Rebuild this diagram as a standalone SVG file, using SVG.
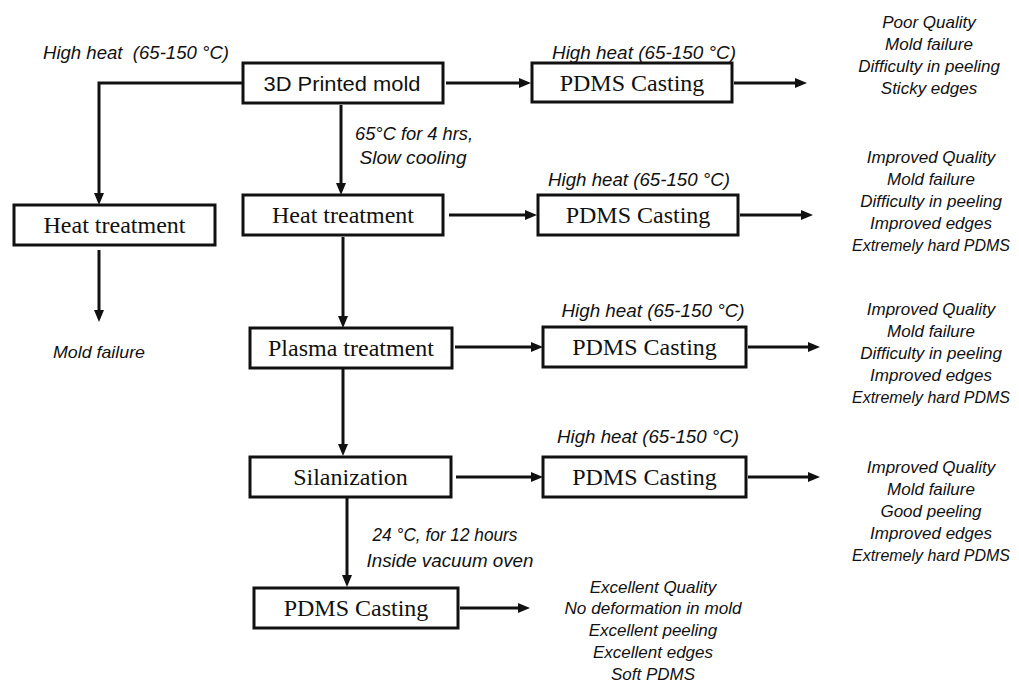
<svg xmlns="http://www.w3.org/2000/svg" width="1019" height="684" viewBox="0 0 1019 684">
<defs>
<marker id="ah" markerUnits="userSpaceOnUse" markerWidth="12" markerHeight="10" viewBox="0 0 12 10" refX="2" refY="5" orient="auto">
<path d="M0,0 L12,5 L0,10 z" fill="#111"/>
</marker>
<style>
.box{fill:#fff;stroke:#111;stroke-width:3}
.st{font-family:"Liberation Serif","Times New Roman",serif;font-size:24px;fill:#111;text-anchor:middle}
.ss{font-family:"Liberation Sans",Arial,sans-serif;font-size:20px;fill:#111;text-anchor:middle}
.it{font-family:"Liberation Sans",Arial,sans-serif;font-style:italic;font-size:17px;fill:#111;text-anchor:middle}
.hh{font-family:"Liberation Sans",Arial,sans-serif;font-style:italic;font-size:19px;fill:#111;text-anchor:middle}
.cn{fill:none;stroke:#111;stroke-width:3}
</style>
</defs>
<rect width="1019" height="684" fill="#fff"/>
<g id="connectors">
<path class="cn" d="M243,83 H99 V195" marker-end="url(#ah)"/>
<path class="cn" d="M341,105 V185" marker-end="url(#ah)"/>
<path class="cn" d="M446,83 H521" marker-end="url(#ah)"/>
<path class="cn" d="M734,83 H797" marker-end="url(#ah)"/>
<path class="cn" d="M99,250 V312" marker-end="url(#ah)"/>
<path class="cn" d="M449,215 H527" marker-end="url(#ah)"/>
<path class="cn" d="M740,215 H803" marker-end="url(#ah)"/>
<path class="cn" d="M343,237 V318" marker-end="url(#ah)"/>
<path class="cn" d="M455,347 H533" marker-end="url(#ah)"/>
<path class="cn" d="M748,347 H810" marker-end="url(#ah)"/>
<path class="cn" d="M343,369 V446" marker-end="url(#ah)"/>
<path class="cn" d="M456,477 H533" marker-end="url(#ah)"/>
<path class="cn" d="M748,477 H810" marker-end="url(#ah)"/>
<path class="cn" d="M347,498 V577" marker-end="url(#ah)"/>
<path class="cn" d="M460,608 H520" marker-end="url(#ah)"/>
</g>
<g id="n_mold"><rect class="box" x="243" y="63" width="200" height="40"/><text class="ss" x="342" y="91" textLength="157" lengthAdjust="spacingAndGlyphs">3D Printed mold</text></g>
<g id="n_heat_left"><rect class="box" x="14" y="205" width="201" height="40"/><text class="st" x="114.5" y="233">Heat treatment</text></g>
<g id="n_heat"><rect class="box" x="243" y="195" width="200" height="40"/><text class="st" x="343" y="223">Heat treatment</text></g>
<g id="n_plasma"><rect class="box" x="250" y="328" width="202" height="40"/><text class="st" x="351" y="356">Plasma treatment</text></g>
<g id="n_sil"><rect class="box" x="250" y="457" width="201" height="40"/><text class="st" x="350.5" y="485">Silanization</text></g>
<g id="n_pdms1"><rect class="box" x="532" y="63" width="200" height="39"/><text class="st" x="632" y="91">PDMS Casting</text></g>
<g id="n_pdms2"><rect class="box" x="538" y="195" width="200" height="40"/><text class="st" x="638" y="223">PDMS Casting</text></g>
<g id="n_pdms3"><rect class="box" x="543" y="327" width="203" height="40"/><text class="st" x="644.5" y="355">PDMS Casting</text></g>
<g id="n_pdms4"><rect class="box" x="543" y="457" width="203" height="40"/><text class="st" x="644.5" y="485">PDMS Casting</text></g>
<g id="n_pdms5"><rect class="box" x="254" y="588" width="204" height="40"/><text class="st" x="356" y="616">PDMS Casting</text></g>
<g id="labels">
<text class="hh" x="136" y="59" textLength="186" lengthAdjust="spacingAndGlyphs" xml:space="preserve">High heat  (65-150 °C)</text>
<text class="hh" x="644" y="59" textLength="184" lengthAdjust="spacingAndGlyphs">High heat (65-150 °C)</text>
<text class="hh" x="639" y="186" textLength="182" lengthAdjust="spacingAndGlyphs">High heat (65-150 °C)</text>
<text class="hh" x="653" y="317" textLength="183" lengthAdjust="spacingAndGlyphs">High heat (65-150 °C)</text>
<text class="hh" x="648" y="443" textLength="182" lengthAdjust="spacingAndGlyphs">High heat (65-150 °C)</text>
<text class="hh" x="414" y="140" textLength="118" lengthAdjust="spacingAndGlyphs">65°C for 4 hrs,</text>
<text class="hh" x="413" y="164" textLength="107" lengthAdjust="spacingAndGlyphs">Slow cooling</text>
<text class="hh" x="445" y="541" textLength="145" lengthAdjust="spacingAndGlyphs">24 °C, for 12 hours</text>
<text class="hh" x="450" y="567" textLength="167" lengthAdjust="spacingAndGlyphs">Inside vacuum oven</text>
</g>
<g id="out_left"><text class="it" x="99" y="358" textLength="92" lengthAdjust="spacingAndGlyphs">Mold failure</text></g>
<g id="out1">
<text class="it" x="929" y="28">Poor Quality</text>
<text class="it" x="929" y="50">Mold failure</text>
<text class="it" x="929" y="72">Difficulty in peeling</text>
<text class="it" x="929" y="94">Sticky edges</text>
</g>
<g id="out2">
<text class="it" x="931" y="163">Improved Quality</text>
<text class="it" x="931" y="185">Mold failure</text>
<text class="it" x="931" y="207">Difficulty in peeling</text>
<text class="it" x="931" y="229">Improved edges</text>
<text class="it" x="931" y="251" textLength="158" lengthAdjust="spacingAndGlyphs">Extremely hard PDMS</text>
</g>
<g id="out3">
<text class="it" x="931" y="315">Improved Quality</text>
<text class="it" x="931" y="337">Mold failure</text>
<text class="it" x="931" y="359">Difficulty in peeling</text>
<text class="it" x="931" y="381">Improved edges</text>
<text class="it" x="931" y="403" textLength="158" lengthAdjust="spacingAndGlyphs">Extremely hard PDMS</text>
</g>
<g id="out4">
<text class="it" x="931" y="473">Improved Quality</text>
<text class="it" x="931" y="495">Mold failure</text>
<text class="it" x="931" y="517">Good peeling</text>
<text class="it" x="931" y="539">Improved edges</text>
<text class="it" x="931" y="561" textLength="158" lengthAdjust="spacingAndGlyphs">Extremely hard PDMS</text>
</g>
<g id="out5">
<text class="it" x="653" y="593">Excellent Quality</text>
<text class="it" x="653" y="614" textLength="177" lengthAdjust="spacingAndGlyphs">No deformation in mold</text>
<text class="it" x="653" y="636">Excellent peeling</text>
<text class="it" x="653" y="658">Excellent edges</text>
<text class="it" x="653" y="680">Soft PDMS</text>
</g>
</svg>
